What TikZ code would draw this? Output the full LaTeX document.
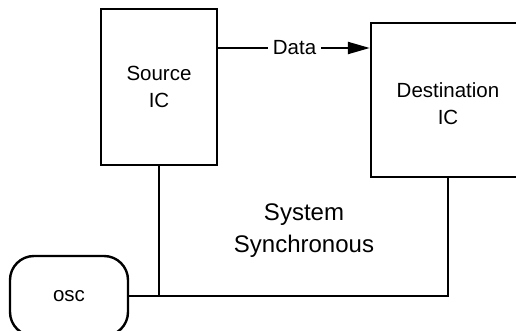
\documentclass[tikz,border=0pt]{standalone}
\usepackage{fontspec}
\setmainfont{Liberation Sans}
\usetikzlibrary{arrows.meta}
\begin{document}
\begin{tikzpicture}[x=1pt,y=-1pt,
  box/.style={draw,line width=2.4pt,rectangle,align=center,inner sep=0pt,font=\fontsize{20.5}{27}\selectfont},
  wire/.style={line width=2.2pt},
  lbl/.style={align=center,inner sep=5pt,font=\fontsize{20.5}{27}\selectfont}]
\useasboundingbox (0,0) rectangle (516,331);
\clip (0,0) rectangle (516,331);
\node[box,minimum width=116pt,minimum height=156pt] (src) at (159,87) {\raisebox{0pt}[0pt][0pt]{}Source\\IC};
\node[box,minimum width=154pt,minimum height=154pt] (dst) at (448,100) {\rule{0pt}{22pt}Destination\\IC};
\node[box,rounded corners=24pt,minimum width=118pt,minimum height=80pt] (osc) at (69,296) {osc};
\node[lbl] (data) at (294.5,48) {Data};
\node[lbl,font=\fontsize{24}{32}\selectfont] (sys) at (304,231) {System\\Synchronous};
\draw[wire] (src.east |- data) -- (data.west);
\draw[wire,-{Triangle[length=22pt,width=12pt]}] (data.east) -- (dst.west |- data);
\draw[wire] (src.south) -- (src.south |- osc.east);
\draw[wire] (dst.south) |- (osc.east);
\end{tikzpicture}
\end{document}
